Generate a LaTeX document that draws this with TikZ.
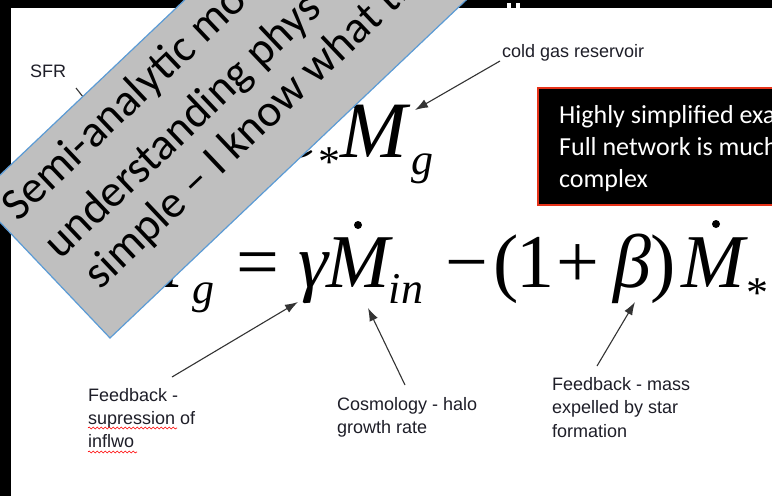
\documentclass[tikz,border=0pt]{standalone}
\usepackage{fontspec}
\setmainfont{Liberation Sans}
\newfontfamily\calib{Carlito}
\newfontfamily\tms{Liberation Serif}
\usetikzlibrary{arrows.meta,decorations.pathmorphing}
\definecolor{boxgray}{RGB}{191,191,191}
\definecolor{boxblue}{RGB}{91,155,213}
\definecolor{redline}{RGB}{230,50,25}
\definecolor{labelink}{RGB}{30,30,40}
\begin{document}
\begin{tikzpicture}[x=1pt,y=-1pt,
  lab/.style={font=\fontsize{18}{23}\selectfont, text=labelink, inner sep=0pt, anchor=base west},
  eqa/.style={font=\fontsize{76}{80}\selectfont\tms\itshape, inner sep=0pt, anchor=base},
  eqr/.style={font=\fontsize{76}{80}\selectfont\tms, inner sep=0pt, anchor=base},
  eqsub/.style={font=\fontsize{44}{48}\selectfont\tms\itshape, inner sep=0pt, anchor=base},
  eqast/.style={font=\fontsize{44}{48}\selectfont\tms, inner sep=0pt, anchor=base},
  eqbig/.style={font=\fontsize{80}{84}\selectfont\tms\itshape, inner sep=0pt, anchor=base},
  eqbigr/.style={font=\fontsize{80}{84}\selectfont\tms, inner sep=0pt, anchor=base},
  eqdot/.style={fill=black},
  ptr/.style={draw=black!80, line width=1.1pt, -{Latex[length=13pt,width=9pt]}},
  semi/.style={font=\fontsize{45.5}{53}\selectfont\calib, text=black, rotate=43.5, anchor=base west, inner sep=0pt},
  boxtxt/.style={font=\fontsize{26}{32}\selectfont\calib, text=white, anchor=base west, inner sep=0pt},
  squig/.style={draw=red, line width=0.6pt, decorate, decoration={snake, amplitude=1pt, segment length=4pt}},
]
\useasboundingbox (0,0) rectangle (772,496);
\clip (0,0) rectangle (772,496);
\fill[black] (0,0) rectangle (772,496);
\fill[white] (11,8) rectangle (772,496);
\fill[white] (507,3) rectangle (511,8);
\fill[white] (516,3) rectangle (520,8);

% equation 1 : Mdot_* = eps_* M_g
\node[eqbig] (e1M) at (160,157) {M};
\fill[eqdot] (164,92) circle (4);
\node[eqast] (e1a) at (205,176) {*};
\node[eqbigr] (e1eq) at (245,157) {=};
\node[eqbig] (e1eps) at (300,157) {ε};
\node[eqast] (e1b) at (329,176) {*};
\node[eqbig] (e1Mg) at (374,157) {M};
\node[eqsub] (e1g) at (422,174) {g};

% equation 2
\node[eqa] (e2M) at (152,287) {M};
\fill[eqdot] (158,224) circle (4);
\node[eqsub] (e2g) at (203,303) {g};
\node[eqr] (e2eq) at (258,287) {=};
\node[eqa] (gam) at (313,287) {γ};
\node[eqa] (Min) at (358,287) {M};
\fill[eqdot] (358,225) circle (4);
\node[eqsub] (in) at (406,303) {in};
\node[eqr] (minus) at (467,287) {−};
\node[eqr] (lp) at (506,287) {(};
\node[eqr] (one) at (535,287) {1};
\node[eqr] (plus) at (578,287) {+};
\node[eqa] (beta) at (632,287) {β};
\node[eqr] (rp) at (663,287) {)};
\node[eqa] (Mst) at (713,287) {M};
\fill[eqdot] (716,224) circle (4);
\node[eqast] (st) at (757,307) {*};

% labels
\node[lab] (sfr) at (30,77) {SFR};
\node[lab] (cold) at (502,57) {cold gas reservoir};
\node[lab] (fb1a) at (88,401) {Feedback -};
\node[lab] (fb1b) at (88,424) {supression of};
\node[lab] (fb1c) at (88,447) {inflwo};
\node[lab] (cos1) at (337,410) {Cosmology - halo};
\node[lab] (cos2) at (337,433) {growth rate};
\node[lab] (fb2a) at (552,390) {Feedback - mass};
\node[lab] (fb2b) at (552,413) {expelled by star};
\node[lab] (fb2c) at (552,437) {formation};
\draw[squig] (88,428) -- (177,428);
\draw[squig] (88,452) -- (137,452);

% arrows
\coordinate (tcold) at (500,61);  \coordinate (hMg) at (415,110);
\coordinate (tsfr) at (76,88);    \coordinate (hsfr) at (125,150);
\coordinate (tfb1) at (172,377);  \coordinate (hgam) at (298,302);
\coordinate (tcos) at (405,385);  \coordinate (hin) at (368,308);
\coordinate (tfb2) at (597,366);  \coordinate (hbeta) at (635,302);
\draw[ptr] (tcold) -- (hMg);
\draw[ptr] (tsfr) -- (hsfr);
\draw[ptr] (tfb1) -- (hgam);
\draw[ptr] (tcos) -- (hin);
\draw[ptr] (tfb2) -- (hbeta);

% black note box
\draw[fill=black, draw=redline, line width=2pt] (538,88) rectangle (790,205);
\node[boxtxt] (n1) at (559,123) {Highly simplified exa};
\node[boxtxt] (n2) at (559,155) {Full network is much};
\node[boxtxt] (n3) at (559,187) {complex};

% gray rotated overlay
\filldraw[fill=boxgray, draw=boxblue, line width=1.2pt] (110,338) -- (617.5,-143.6) -- (484,-284) -- (-23.5,197.4) -- cycle;
\node[semi] (s1) at (18.3,222.5) {Semi-analytic mo};
\node[semi] (s2) at (60.5,260.5) {understanding phys};
\node[semi] (s3) at (100.5,290.5) {simple – I know what th};
\end{tikzpicture}
\end{document}
